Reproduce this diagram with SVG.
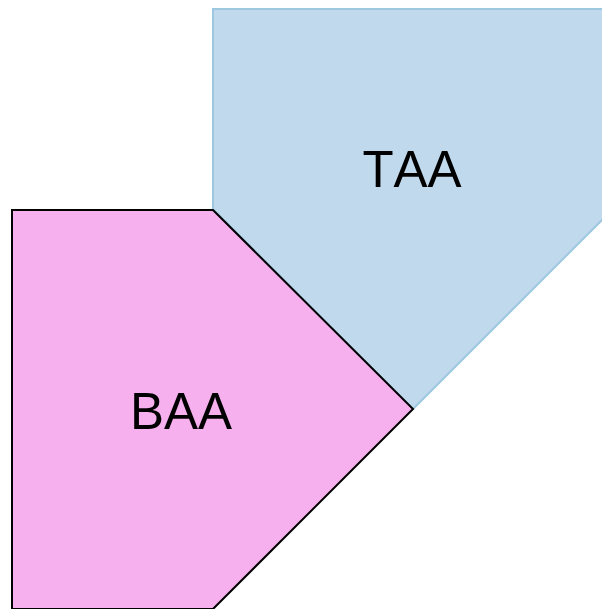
<svg xmlns="http://www.w3.org/2000/svg" width="602" height="609" viewBox="0 0 602 609">
<style>
text{font-family:"Liberation Sans",Arial,sans-serif;font-size:51px;fill:#000;text-anchor:middle;font-kerning:none}
</style>
<rect width="602" height="609" fill="#fff"/>
<g id="TAA">
<polygon points="213,9 613,9 613,209 413,409 213,209" fill="#c1d9ec" stroke="#9ec8e0" stroke-width="2"/>
<text x="412" y="187">TAA</text>
</g>
<g id="BAA">
<polygon points="12,210 213,210 413,409 213,609 12,609" fill="#f7b0ee" stroke="#000" stroke-width="2"/>
<text x="181" y="429">BAA</text>
</g>
<g id="connectors"/>
</svg>
